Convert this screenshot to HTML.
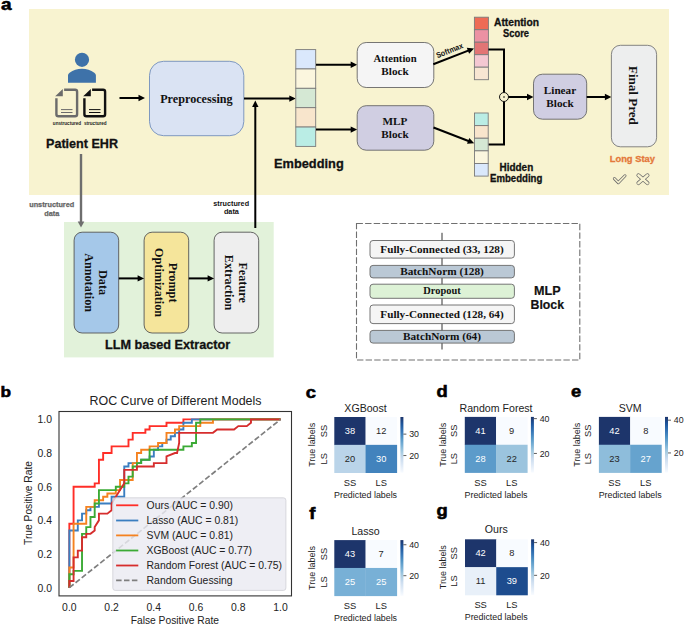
<!DOCTYPE html>
<html><head><meta charset="utf-8"><title>figure</title>
<style>html,body{margin:0;padding:0;background:#fff;width:685px;height:626px;overflow:hidden}svg{display:block}</style>
</head><body>
<svg width="685" height="626" viewBox="0 0 685 626">
<text transform="translate(0.9,10.1) scale(1.15,1)" font-family="Liberation Sans" font-size="16.5" font-weight="bold" fill="#000" stroke="#000" stroke-width="0.55">a</text>
<rect x="29.00" y="9.00" width="640.00" height="186.00" fill="#F8F3D0" />
<circle cx="82" cy="59.8" r="7.1" fill="#3E72A9"/>
<path d="M68,82.8 L68,75.3 Q68,73.8 69.6,72.8 C73.2,70.4 77.2,68.8 81.95,68.8 C86.7,68.8 90.7,70.4 94.3,72.8 Q95.9,73.8 95.9,75.3 L95.9,82.8 Z" fill="#3E72A9" />
<path d="M64.10000000000001,89.8 L75.1,89.8 Q77.1,89.8 77.1,91.8 L77.1,114.3 Q77.1,116.3 75.1,116.3 L58.400000000000006,116.3 Q56.400000000000006,116.3 56.400000000000006,114.3 L56.400000000000006,98.2" fill="none" stroke="#6b6b6b" stroke-width="2.4" />
<path d="M55.2,96.3 L62.800000000000004,89 L62.800000000000004,96.3 Z" fill="#6b6b6b" />
<line x1="61.00" y1="109.60" x2="72.50" y2="109.60" stroke="#6b6b6b" stroke-width="1" />
<line x1="61.00" y1="112.50" x2="72.50" y2="112.50" stroke="#6b6b6b" stroke-width="1" />
<path d="M92.10000000000001,89.8 L103.1,89.8 Q105.1,89.8 105.1,91.8 L105.1,114.3 Q105.1,116.3 103.1,116.3 L86.4,116.3 Q84.4,116.3 84.4,114.3 L84.4,98.2" fill="none" stroke="#111" stroke-width="2.4" />
<path d="M83.2,96.3 L90.8,89 L90.8,96.3 Z" fill="#111" />
<line x1="89.00" y1="109.60" x2="100.50" y2="109.60" stroke="#111" stroke-width="1" />
<line x1="89.00" y1="112.50" x2="100.50" y2="112.50" stroke="#111" stroke-width="1" />
<text x="67.00" y="125.20" font-family="Liberation Sans" font-size="5.2" font-weight="bold" fill="#222" text-anchor="middle" textLength="28.3" lengthAdjust="spacingAndGlyphs" >unstructured</text>
<text x="95.30" y="125.20" font-family="Liberation Sans" font-size="5.2" font-weight="bold" fill="#222" text-anchor="middle" textLength="22.8" lengthAdjust="spacingAndGlyphs" >structured</text>
<text x="46.00" y="148.00" font-family="Liberation Sans" font-size="13" font-weight="bold" fill="#111" text-anchor="start" textLength="72" lengthAdjust="spacingAndGlyphs" stroke="#111" stroke-width="0.3">Patient EHR</text>
<line x1="119.50" y1="98.00" x2="139.50" y2="98.00" stroke="#000" stroke-width="2.0" />
<path d="M145.00,98.00 L138.50,101.20 L138.50,94.80 Z" fill="#000" />
<rect x="149.50" y="61.30" width="94.30" height="74.40" fill="#DAE3F3" rx="14" stroke="#7E98C0" stroke-width="1" />
<text x="160.20" y="103.30" font-family="Liberation Serif" font-size="12.3" font-weight="bold" fill="#111" text-anchor="start" textLength="72.5" lengthAdjust="spacingAndGlyphs" >Preprocessing</text>
<line x1="244.00" y1="98.60" x2="290.30" y2="98.60" stroke="#000" stroke-width="2.0" />
<path d="M295.80,98.60 L289.30,101.80 L289.30,95.40 Z" fill="#000" />
<line x1="255.30" y1="227.60" x2="255.30" y2="106.10" stroke="#000" stroke-width="2.0" />
<path d="M255.30,100.60 L258.50,107.10 L252.10,107.10 Z" fill="#000" />
<rect x="295.80" y="49.60" width="19.90" height="19.36" fill="#DAE8FC" stroke="#7a7a7a" stroke-width="0.9" />
<rect x="295.80" y="68.96" width="19.90" height="19.36" fill="#FBF6DE" stroke="#7a7a7a" stroke-width="0.9" />
<rect x="295.80" y="88.32" width="19.90" height="19.36" fill="#D5E8D4" stroke="#7a7a7a" stroke-width="0.9" />
<rect x="295.80" y="107.68" width="19.90" height="19.36" fill="#F8E5CC" stroke="#7a7a7a" stroke-width="0.9" />
<rect x="295.80" y="127.04" width="19.90" height="19.36" fill="#BAEDE5" stroke="#7a7a7a" stroke-width="0.9" />
<text x="274.00" y="167.70" font-family="Liberation Sans" font-size="13" font-weight="bold" fill="#111" text-anchor="start" textLength="69.7" lengthAdjust="spacingAndGlyphs" stroke="#111" stroke-width="0.3">Embedding</text>
<line x1="316.00" y1="64.70" x2="351.70" y2="64.70" stroke="#000" stroke-width="2.0" />
<path d="M357.20,64.70 L350.70,67.90 L350.70,61.50 Z" fill="#000" />
<line x1="316.00" y1="129.60" x2="351.70" y2="129.60" stroke="#000" stroke-width="2.0" />
<path d="M357.20,129.60 L350.70,132.80 L350.70,126.40 Z" fill="#000" />
<rect x="357.20" y="42.50" width="76.60" height="45.00" fill="#F5F5F5" rx="9" stroke="#666" stroke-width="0.9" />
<text x="395.00" y="62.30" font-family="Liberation Serif" font-size="11.2" font-weight="bold" fill="#111" text-anchor="middle" textLength="43.2" lengthAdjust="spacingAndGlyphs" >Attention</text>
<text x="395.00" y="75.00" font-family="Liberation Serif" font-size="11.2" font-weight="bold" fill="#111" text-anchor="middle" >Block</text>
<rect x="357.20" y="105.70" width="76.60" height="44.50" fill="#D0CEE2" rx="9" stroke="#666" stroke-width="0.9" />
<text x="395.00" y="125.30" font-family="Liberation Serif" font-size="11.2" font-weight="bold" fill="#111" text-anchor="middle" >MLP</text>
<text x="395.00" y="137.80" font-family="Liberation Serif" font-size="11.2" font-weight="bold" fill="#111" text-anchor="middle" >Block</text>
<line x1="433.30" y1="64.20" x2="468.87" y2="50.39" stroke="#000" stroke-width="2.0" />
<path d="M474.00,48.40 L469.10,53.74 L466.78,47.77 Z" fill="#000" />
<text x="450.60" y="53.00" font-family="Liberation Sans" font-size="8" font-weight="bold" fill="#111" text-anchor="middle" textLength="28.5" lengthAdjust="spacingAndGlyphs" transform="rotate(-22 450.6 53)" >Softmax</text>
<rect x="474.40" y="17.20" width="14.00" height="12.50" fill="#EE6B55" stroke="#7a7a7a" stroke-width="0.9" />
<rect x="474.40" y="29.70" width="14.00" height="12.50" fill="#EC91A3" stroke="#7a7a7a" stroke-width="0.9" />
<rect x="474.40" y="42.20" width="14.00" height="12.50" fill="#E27575" stroke="#7a7a7a" stroke-width="0.9" />
<rect x="474.40" y="54.70" width="14.00" height="12.50" fill="#F4C8D2" stroke="#7a7a7a" stroke-width="0.9" />
<rect x="474.40" y="67.20" width="14.00" height="12.50" fill="#F8E6D2" stroke="#7a7a7a" stroke-width="0.9" />
<text x="494.00" y="25.60" font-family="Liberation Sans" font-size="10.2" font-weight="bold" fill="#111" text-anchor="start" textLength="45" lengthAdjust="spacingAndGlyphs" stroke="#111" stroke-width="0.3">Attention</text>
<text x="503.00" y="36.70" font-family="Liberation Sans" font-size="10" font-weight="bold" fill="#111" text-anchor="start" textLength="26" lengthAdjust="spacingAndGlyphs" stroke="#111" stroke-width="0.3">Score</text>
<path d="M488.4,49.6 L504,49.6 L504,92.5" fill="none" stroke="#000" stroke-width="2.0" />
<path d="M488.2,144.5 L504,144.5 L504,101.5" fill="none" stroke="#000" stroke-width="2.0" />
<circle cx="504" cy="97" r="4.5" fill="#F8F3D0" stroke="#000" stroke-width="0.9"/>
<circle cx="504" cy="97" r="0.8" fill="#000"/>
<line x1="508.50" y1="97.00" x2="528.00" y2="97.00" stroke="#000" stroke-width="2.0" />
<path d="M533.50,97.00 L527.00,100.20 L527.00,93.80 Z" fill="#000" />
<rect x="533.50" y="74.20" width="53.20" height="45.00" fill="#D0CEE2" rx="9" stroke="#666" stroke-width="0.9" />
<text x="560.00" y="93.60" font-family="Liberation Serif" font-size="11.2" font-weight="bold" fill="#111" text-anchor="middle" >Linear</text>
<text x="560.00" y="107.20" font-family="Liberation Serif" font-size="11.2" font-weight="bold" fill="#111" text-anchor="middle" >Block</text>
<line x1="586.70" y1="97.00" x2="605.90" y2="97.00" stroke="#000" stroke-width="2.0" />
<path d="M611.40,97.00 L604.90,100.20 L604.90,93.80 Z" fill="#000" />
<rect x="611.40" y="45.30" width="45.20" height="101.50" fill="#EDEEEE" rx="9" stroke="#777" stroke-width="0.9" />
<text x="0.00" y="0.00" font-family="Liberation Serif" font-size="12.8" font-weight="bold" fill="#111" text-anchor="middle" textLength="59" lengthAdjust="spacingAndGlyphs" transform="translate(628.9,95.4) rotate(90)" >Final Pred</text>
<text x="609.70" y="162.30" font-family="Liberation Sans" font-size="9.8" font-weight="bold" fill="#E4783A" text-anchor="start" textLength="45.3" lengthAdjust="spacingAndGlyphs" stroke="#E4783A" stroke-width="0.3">Long Stay</text>
<path d="M614.4,178.6 L618.3,182.6 L625,175.8" fill="none" stroke="#6a6a6a" stroke-width="3.0" stroke-linecap="round" stroke-linejoin="round"/>
<path d="M614.4,178.6 L618.3,182.6 L625,175.8" fill="none" stroke="#F8F3D0" stroke-width="1.5" stroke-linecap="round" stroke-linejoin="round"/>
<path d="M638.4,175.3 L647.5,183.1 M647.5,175.3 L638.4,183.1" fill="none" stroke="#6a6a6a" stroke-width="3.9" stroke-linecap="round"/>
<path d="M638.4,175.3 L647.5,183.1 M647.5,175.3 L638.4,183.1" fill="none" stroke="#F8F3D0" stroke-width="2.5" stroke-linecap="round"/>
<line x1="433.50" y1="127.50" x2="469.07" y2="141.22" stroke="#000" stroke-width="2.0" />
<path d="M474.20,143.20 L466.98,143.85 L469.29,137.88 Z" fill="#000" />
<rect x="474.50" y="113.00" width="13.70" height="12.62" fill="#BAEDE5" stroke="#7a7a7a" stroke-width="0.9" />
<rect x="474.50" y="125.62" width="13.70" height="12.62" fill="#F8E5CC" stroke="#7a7a7a" stroke-width="0.9" />
<rect x="474.50" y="138.24" width="13.70" height="12.62" fill="#D5E8D4" stroke="#7a7a7a" stroke-width="0.9" />
<rect x="474.50" y="150.86" width="13.70" height="12.62" fill="#FBF6DE" stroke="#7a7a7a" stroke-width="0.9" />
<rect x="474.50" y="163.48" width="13.70" height="12.62" fill="#DAE8FC" stroke="#7a7a7a" stroke-width="0.9" />
<text x="499.60" y="171.00" font-family="Liberation Sans" font-size="10" font-weight="bold" fill="#111" text-anchor="start" textLength="33.6" lengthAdjust="spacingAndGlyphs" stroke="#111" stroke-width="0.3">Hidden</text>
<text x="490.00" y="181.80" font-family="Liberation Sans" font-size="10" font-weight="bold" fill="#111" text-anchor="start" textLength="52.3" lengthAdjust="spacingAndGlyphs" stroke="#111" stroke-width="0.3">Embedding</text>
<text x="51.70" y="207.40" font-family="Liberation Sans" font-size="7.3" font-weight="bold" fill="#666" text-anchor="middle" textLength="45" lengthAdjust="spacingAndGlyphs" stroke="#666" stroke-width="0.25">unstructured</text>
<text x="51.70" y="215.50" font-family="Liberation Sans" font-size="7.3" font-weight="bold" fill="#666" text-anchor="middle" stroke="#666" stroke-width="0.25">data</text>
<text x="231.20" y="206.00" font-family="Liberation Sans" font-size="7.3" font-weight="bold" fill="#111" text-anchor="middle" textLength="35.7" lengthAdjust="spacingAndGlyphs" >structured</text>
<text x="231.40" y="213.90" font-family="Liberation Sans" font-size="7.3" font-weight="bold" fill="#111" text-anchor="middle" >data</text>
<rect x="64.00" y="222.00" width="209.70" height="135.40" fill="#E2F2DA" />
<line x1="81.00" y1="154.00" x2="81.00" y2="222.40" stroke="#6e6e6e" stroke-width="2.4" />
<path d="M81.00,227.40 L77.70,221.40 L84.30,221.40 Z" fill="#6e6e6e" />
<line x1="255.30" y1="222.00" x2="255.30" y2="228.00" stroke="#000" stroke-width="2.0" />
<rect x="74.10" y="232.20" width="44.60" height="100.80" fill="#A5C8E9" rx="8" stroke="#555" stroke-width="0.9" />
<rect x="144.10" y="232.20" width="44.60" height="100.80" fill="#F5E59B" rx="8" stroke="#555" stroke-width="0.9" />
<rect x="214.10" y="232.20" width="44.60" height="100.80" fill="#EEEEEE" rx="8" stroke="#555" stroke-width="0.9" />
<line x1="118.80" y1="278.40" x2="138.60" y2="278.40" stroke="#000" stroke-width="2.0" />
<path d="M144.10,278.40 L137.60,281.60 L137.60,275.20 Z" fill="#000" />
<line x1="188.80" y1="278.40" x2="208.60" y2="278.40" stroke="#000" stroke-width="2.0" />
<path d="M214.10,278.40 L207.60,281.60 L207.60,275.20 Z" fill="#000" />
<text x="0.00" y="0.00" font-family="Liberation Serif" font-size="12.2" font-weight="bold" fill="#111" text-anchor="middle" transform="translate(98.5,282.6) rotate(90)" >Data</text>
<text x="0.00" y="0.00" font-family="Liberation Serif" font-size="12.2" font-weight="bold" fill="#111" text-anchor="middle" transform="translate(84.5,282.6) rotate(90)" >Annotation</text>
<text x="0.00" y="0.00" font-family="Liberation Serif" font-size="12.2" font-weight="bold" fill="#111" text-anchor="middle" transform="translate(168.5,282.6) rotate(90)" >Prompt</text>
<text x="0.00" y="0.00" font-family="Liberation Serif" font-size="12.2" font-weight="bold" fill="#111" text-anchor="middle" transform="translate(154.5,282.6) rotate(90)" >Optimization</text>
<text x="0.00" y="0.00" font-family="Liberation Serif" font-size="12.2" font-weight="bold" fill="#111" text-anchor="middle" transform="translate(238.5,282.6) rotate(90)" >Feature</text>
<text x="0.00" y="0.00" font-family="Liberation Serif" font-size="12.2" font-weight="bold" fill="#111" text-anchor="middle" transform="translate(224.5,282.6) rotate(90)" >Extraction</text>
<text x="105.00" y="349.40" font-family="Liberation Sans" font-size="12.7" font-weight="bold" fill="#111" text-anchor="start" textLength="125.2" lengthAdjust="spacingAndGlyphs" stroke="#111" stroke-width="0.3">LLM based Extractor</text>
<rect x="356.50" y="223.50" width="223.30" height="136.50" fill="none" stroke="#707070" stroke-width="1.1" stroke-dasharray="6.4 2.2"/>
<line x1="442.00" y1="232.80" x2="442.00" y2="349.50" stroke="#333" stroke-width="1" />
<rect x="370.00" y="240.50" width="144.40" height="17.60" fill="#F5F5F5" rx="3" stroke="#666" stroke-width="0.9" />
<text x="442.00" y="253.00" font-family="Liberation Serif" font-size="11" font-weight="bold" fill="#111" text-anchor="middle" textLength="123.3" lengthAdjust="spacingAndGlyphs" >Fully-Connected (33, 128)</text>
<rect x="370.00" y="265.40" width="144.40" height="12.50" fill="#BAC8D5" rx="3" stroke="#666" stroke-width="0.9" />
<text x="442.00" y="274.50" font-family="Liberation Serif" font-size="11" font-weight="bold" fill="#111" text-anchor="middle" textLength="83.7" lengthAdjust="spacingAndGlyphs" >BatchNorm (128)</text>
<rect x="370.00" y="284.20" width="144.40" height="14.10" fill="#DDF2D6" rx="3" stroke="#666" stroke-width="0.9" />
<text x="442.00" y="294.40" font-family="Liberation Serif" font-size="11" font-weight="bold" fill="#111" text-anchor="middle" textLength="37.3" lengthAdjust="spacingAndGlyphs" >Dropout</text>
<rect x="370.00" y="305.00" width="144.40" height="18.60" fill="#F5F5F5" rx="3" stroke="#666" stroke-width="0.9" />
<text x="442.00" y="318.20" font-family="Liberation Serif" font-size="11" font-weight="bold" fill="#111" text-anchor="middle" textLength="123.3" lengthAdjust="spacingAndGlyphs" >Fully-Connected (128, 64)</text>
<rect x="370.00" y="330.40" width="144.40" height="12.70" fill="#BAC8D5" rx="3" stroke="#666" stroke-width="0.9" />
<text x="442.00" y="339.70" font-family="Liberation Serif" font-size="11" font-weight="bold" fill="#111" text-anchor="middle" textLength="78.1" lengthAdjust="spacingAndGlyphs" >BatchNorm (64)</text>
<text x="547.30" y="295.10" font-family="Liberation Sans" font-size="13.6" font-weight="bold" fill="#111" text-anchor="middle" textLength="26.6" lengthAdjust="spacingAndGlyphs" stroke="#111" stroke-width="0.2">MLP</text>
<text x="547.30" y="309.20" font-family="Liberation Sans" font-size="13.6" font-weight="bold" fill="#111" text-anchor="middle" textLength="33.6" lengthAdjust="spacingAndGlyphs" stroke="#111" stroke-width="0.2">Block</text>
<text transform="translate(0.6,396.8) scale(1.15,1)" font-family="Liberation Sans" font-size="15" font-weight="bold" fill="#000" stroke="#000" stroke-width="0.55">b</text>
<text x="89.50" y="405.00" font-family="Liberation Sans" font-size="12.4" font-weight="normal" fill="#222" text-anchor="start" textLength="172" lengthAdjust="spacingAndGlyphs" >ROC Curve of Different Models</text>
<text x="52.00" y="591.50" font-family="Liberation Sans" font-size="10.4" font-weight="normal" fill="#222" text-anchor="end" >0.0</text>
<text x="69.35" y="610.80" font-family="Liberation Sans" font-size="10.4" font-weight="normal" fill="#222" text-anchor="middle" >0.0</text>
<text x="52.00" y="557.84" font-family="Liberation Sans" font-size="10.4" font-weight="normal" fill="#222" text-anchor="end" >0.2</text>
<text x="111.59" y="610.80" font-family="Liberation Sans" font-size="10.4" font-weight="normal" fill="#222" text-anchor="middle" >0.2</text>
<text x="52.00" y="524.18" font-family="Liberation Sans" font-size="10.4" font-weight="normal" fill="#222" text-anchor="end" >0.4</text>
<text x="153.83" y="610.80" font-family="Liberation Sans" font-size="10.4" font-weight="normal" fill="#222" text-anchor="middle" >0.4</text>
<text x="52.00" y="490.52" font-family="Liberation Sans" font-size="10.4" font-weight="normal" fill="#222" text-anchor="end" >0.6</text>
<text x="196.07" y="610.80" font-family="Liberation Sans" font-size="10.4" font-weight="normal" fill="#222" text-anchor="middle" >0.6</text>
<text x="52.00" y="456.86" font-family="Liberation Sans" font-size="10.4" font-weight="normal" fill="#222" text-anchor="end" >0.8</text>
<text x="238.31" y="610.80" font-family="Liberation Sans" font-size="10.4" font-weight="normal" fill="#222" text-anchor="middle" >0.8</text>
<text x="52.00" y="423.20" font-family="Liberation Sans" font-size="10.4" font-weight="normal" fill="#222" text-anchor="end" >1.0</text>
<text x="280.55" y="610.80" font-family="Liberation Sans" font-size="10.4" font-weight="normal" fill="#222" text-anchor="middle" >1.0</text>
<text x="130.70" y="624.10" font-family="Liberation Sans" font-size="10.4" font-weight="normal" fill="#222" text-anchor="start" textLength="88.3" lengthAdjust="spacingAndGlyphs" >False Positive Rate</text>
<text x="0.00" y="0.00" font-family="Liberation Sans" font-size="10.4" font-weight="normal" fill="#222" text-anchor="middle" textLength="84" lengthAdjust="spacingAndGlyphs" transform="translate(31.6,503) rotate(-90)" >True Positive Rate</text>
<clipPath id="ax"><rect x="59" y="411.5" width="232.5" height="184"/></clipPath>
<g clip-path="url(#ax)">
<path d="M69.35,587.70 L69.35,523.75 L73.57,523.75 L73.57,486.72 L94.69,486.72 L94.69,483.35 L98.92,483.35 L98.92,459.79 L103.14,459.79 L103.14,453.06 L111.59,453.06 L111.59,446.33 L128.49,446.33 L128.49,439.60 L132.71,439.60 L132.71,432.86 L145.38,432.86 L145.38,429.50 L149.61,429.50 L149.61,426.13 L166.50,426.13 L166.50,422.77 L183.40,422.77 L183.40,419.40 L280.55,419.40" fill="none" stroke="#FF2E27" stroke-width="1.9" stroke-linejoin="miter"/>
<path d="M69.35,587.70 L69.35,530.48 L77.80,530.48 L77.80,520.38 L82.02,520.38 L82.02,513.65 L86.25,513.65 L86.25,510.28 L90.47,510.28 L90.47,506.92 L98.92,506.92 L98.92,503.55 L111.59,503.55 L111.59,496.82 L124.26,496.82 L124.26,466.52 L128.49,466.52 L128.49,463.16 L141.16,463.16 L141.16,459.79 L149.61,459.79 L149.61,456.43 L153.83,456.43 L153.83,449.69 L158.05,449.69 L158.05,446.33 L162.28,446.33 L162.28,442.96 L166.50,442.96 L166.50,439.60 L170.73,439.60 L170.73,436.23 L174.95,436.23 L174.95,432.86 L179.17,432.86 L179.17,429.50 L183.40,429.50 L183.40,422.77 L191.85,422.77 L191.85,419.40 L280.55,419.40" fill="none" stroke="#3A7EC0" stroke-width="1.9" stroke-linejoin="miter"/>
<path d="M69.35,587.70 L69.35,567.50 L73.57,567.50 L73.57,523.75 L86.25,523.75 L86.25,506.92 L94.69,506.92 L94.69,500.18 L103.14,500.18 L103.14,496.82 L107.37,496.82 L107.37,493.45 L115.81,493.45 L115.81,490.09 L120.04,490.09 L120.04,479.99 L132.71,479.99 L132.71,463.16 L136.93,463.16 L136.93,453.06 L141.16,453.06 L141.16,449.69 L149.61,449.69 L149.61,446.33 L158.05,446.33 L158.05,442.96 L166.50,442.96 L166.50,432.86 L174.95,432.86 L174.95,429.50 L179.17,429.50 L179.17,426.13 L200.29,426.13 L200.29,422.77 L212.97,422.77 L212.97,419.40 L280.55,419.40" fill="none" stroke="#F58220" stroke-width="1.9" stroke-linejoin="miter"/>
<path d="M69.35,587.70 L69.35,574.24 L73.57,574.24 L73.57,570.87 L82.02,570.87 L82.02,533.84 L86.25,533.84 L86.25,527.11 L90.47,527.11 L90.47,517.01 L94.69,517.01 L94.69,503.55 L98.92,503.55 L98.92,490.09 L115.81,490.09 L115.81,486.72 L124.26,486.72 L124.26,483.35 L128.49,483.35 L128.49,476.62 L132.71,476.62 L132.71,466.52 L136.93,466.52 L136.93,463.16 L141.16,463.16 L141.16,459.79 L149.61,459.79 L149.61,449.69 L183.40,449.69 L183.40,446.33 L191.85,446.33 L191.85,442.96 L196.07,442.96 L196.07,422.77 L200.29,422.77 L200.29,419.40 L280.55,419.40" fill="none" stroke="#3BAA35" stroke-width="1.9" stroke-linejoin="miter"/>
<path d="M69.35,587.70 L69.35,580.97 L73.57,580.97 L73.57,557.41 L77.80,557.41 L77.80,550.67 L82.02,550.67 L82.02,537.21 L86.25,537.21 L86.25,533.84 L90.47,533.84 L94.69,530.48 L94.69,527.11 L98.92,520.38 L98.92,513.65 L107.37,513.65 L111.59,510.28 L111.59,503.55 L124.26,483.35 L124.26,469.89 L136.93,469.89 L136.93,466.52 L153.83,466.52 L153.83,463.16 L166.50,463.16 L166.50,456.43 L174.95,453.06 L177.06,453.06 L179.17,442.96 L179.17,432.86 L212.97,432.86 L217.19,429.50 L234.09,429.50 L238.31,426.13 L246.76,426.13 L250.98,422.77 L250.98,419.40 L280.55,419.40" fill="none" stroke="#D62D2D" stroke-width="1.9" stroke-linejoin="miter"/>
<line x1="69.35" y1="587.70" x2="280.55" y2="419.40" stroke="#7f7f7f" stroke-width="1.7" stroke-dasharray="5.5 2.4"/>
</g>
<rect x="59.00" y="411.50" width="232.50" height="184.40" fill="none" stroke="#333" stroke-width="1.1" />
<rect x="112.80" y="497.80" width="173.10" height="92.60" fill="#EAEAF2" rx="2.5" stroke="#cfcfd6" stroke-width="0.8" fill-opacity="0.82"/>
<line x1="116.10" y1="505.30" x2="138.30" y2="505.30" stroke="#FF2E27" stroke-width="1.8" />
<text x="146.60" y="509.00" font-family="Liberation Sans" font-size="10.4" font-weight="normal" fill="#222" text-anchor="start" >Ours (AUC = 0.90)</text>
<line x1="116.10" y1="520.50" x2="138.30" y2="520.50" stroke="#3A7EC0" stroke-width="1.8" />
<text x="146.60" y="524.20" font-family="Liberation Sans" font-size="10.4" font-weight="normal" fill="#222" text-anchor="start" >Lasso (AUC = 0.81)</text>
<line x1="116.10" y1="535.40" x2="138.30" y2="535.40" stroke="#F58220" stroke-width="1.8" />
<text x="146.60" y="539.10" font-family="Liberation Sans" font-size="10.4" font-weight="normal" fill="#222" text-anchor="start" >SVM (AUC = 0.81)</text>
<line x1="116.10" y1="550.50" x2="138.30" y2="550.50" stroke="#3BAA35" stroke-width="1.8" />
<text x="146.60" y="554.20" font-family="Liberation Sans" font-size="10.4" font-weight="normal" fill="#222" text-anchor="start" >XGBoost (AUC = 0.77)</text>
<line x1="116.10" y1="565.50" x2="138.30" y2="565.50" stroke="#D62D2D" stroke-width="1.8" />
<text x="146.60" y="569.20" font-family="Liberation Sans" font-size="10.4" font-weight="normal" fill="#222" text-anchor="start" >Random Forest (AUC = 0.75)</text>
<line x1="116.10" y1="580.40" x2="138.30" y2="580.40" stroke="#7f7f7f" stroke-width="1.7" stroke-dasharray="5.5 2.4"/>
<text x="146.60" y="584.10" font-family="Liberation Sans" font-size="10.4" font-weight="normal" fill="#222" text-anchor="start" >Random Guessing</text>
<text transform="translate(305.8,398) scale(1.15,1)" font-family="Liberation Sans" font-size="16" font-weight="bold" fill="#000" stroke="#000" stroke-width="0.55">c</text>
<text x="365.55" y="411.90" font-family="Liberation Sans" font-size="10.6" font-weight="normal" fill="#222" text-anchor="middle" >XGBoost</text>
<rect x="334.30" y="417.00" width="31.55" height="28.15" fill="#1d356b" />
<text x="349.93" y="434.03" font-family="Liberation Sans" font-size="9.3" font-weight="normal" fill="#ffffff" text-anchor="middle" >38</text>
<rect x="365.55" y="417.00" width="31.55" height="28.15" fill="#f8fbff" />
<text x="381.18" y="434.03" font-family="Liberation Sans" font-size="9.3" font-weight="normal" fill="#262626" text-anchor="middle" >12</text>
<rect x="334.30" y="444.85" width="31.55" height="28.15" fill="#bad4e9" />
<text x="349.93" y="461.88" font-family="Liberation Sans" font-size="9.3" font-weight="normal" fill="#262626" text-anchor="middle" >20</text>
<rect x="365.55" y="444.85" width="31.55" height="28.15" fill="#4283bd" />
<text x="381.18" y="461.88" font-family="Liberation Sans" font-size="9.3" font-weight="normal" fill="#ffffff" text-anchor="middle" >30</text>
<text x="0.00" y="0.00" font-family="Liberation Sans" font-size="9.3" font-weight="normal" fill="#222" text-anchor="middle" transform="translate(326.7,430.925) rotate(-90)" >SS</text>
<text x="0.00" y="0.00" font-family="Liberation Sans" font-size="9.3" font-weight="normal" fill="#222" text-anchor="middle" transform="translate(326.7,458.77500000000003) rotate(-90)" >LS</text>
<text x="0.00" y="0.00" font-family="Liberation Sans" font-size="9.6" font-weight="normal" fill="#222" text-anchor="middle" textLength="44" lengthAdjust="spacingAndGlyphs" transform="translate(315.0,444.85) rotate(-90)" >True labels</text>
<text x="349.93" y="486.10" font-family="Liberation Sans" font-size="9.3" font-weight="normal" fill="#222" text-anchor="middle" >SS</text>
<text x="381.18" y="486.10" font-family="Liberation Sans" font-size="9.3" font-weight="normal" fill="#222" text-anchor="middle" >LS</text>
<text x="365.55" y="498.00" font-family="Liberation Sans" font-size="9.6" font-weight="normal" fill="#222" text-anchor="middle" textLength="63" lengthAdjust="spacingAndGlyphs" >Predicted labels</text>
<defs><linearGradient id="cb1" x1="0" y1="1" x2="0" y2="0"><stop offset="0.0000" stop-color="#f8fbff"/><stop offset="0.0625" stop-color="#ecf3fb"/><stop offset="0.1250" stop-color="#e1ebf7"/><stop offset="0.1875" stop-color="#d6e4f3"/><stop offset="0.2500" stop-color="#cbdcef"/><stop offset="0.3125" stop-color="#b9d4e8"/><stop offset="0.3750" stop-color="#a6cbe1"/><stop offset="0.4375" stop-color="#8fbedc"/><stop offset="0.5000" stop-color="#78b0d6"/><stop offset="0.5625" stop-color="#65a2ce"/><stop offset="0.6250" stop-color="#5295c6"/><stop offset="0.6875" stop-color="#4384be"/><stop offset="0.7500" stop-color="#3474b5"/><stop offset="0.8125" stop-color="#2965a8"/><stop offset="0.8750" stop-color="#1d559c"/><stop offset="0.9375" stop-color="#1d4584"/><stop offset="1.0000" stop-color="#1d356b"/></linearGradient></defs>
<rect x="400.40" y="417.00" width="3.00" height="55.70" fill="url(#cb1)" />
<line x1="403.40" y1="434.14" x2="406.40" y2="434.14" stroke="#333" stroke-width="0.8" />
<text x="409.20" y="437.34" font-family="Liberation Sans" font-size="8.8" font-weight="normal" fill="#222" text-anchor="start" >30</text>
<line x1="403.40" y1="455.56" x2="406.40" y2="455.56" stroke="#333" stroke-width="0.8" />
<text x="409.20" y="458.76" font-family="Liberation Sans" font-size="8.8" font-weight="normal" fill="#222" text-anchor="start" >20</text>
<text transform="translate(436.4,396.6) scale(1.15,1)" font-family="Liberation Sans" font-size="16" font-weight="bold" fill="#000" stroke="#000" stroke-width="0.55">d</text>
<text x="496.05" y="411.80" font-family="Liberation Sans" font-size="10.6" font-weight="normal" fill="#222" text-anchor="middle" >Random Forest</text>
<rect x="464.80" y="416.90" width="31.55" height="28.15" fill="#1d356b" />
<text x="480.43" y="433.93" font-family="Liberation Sans" font-size="9.3" font-weight="normal" fill="#ffffff" text-anchor="middle" >41</text>
<rect x="496.05" y="416.90" width="31.55" height="28.15" fill="#f8fbff" />
<text x="511.68" y="433.93" font-family="Liberation Sans" font-size="9.3" font-weight="normal" fill="#262626" text-anchor="middle" >9</text>
<rect x="464.80" y="444.75" width="31.55" height="28.15" fill="#5c9bca" />
<text x="480.43" y="461.78" font-family="Liberation Sans" font-size="9.3" font-weight="normal" fill="#ffffff" text-anchor="middle" >28</text>
<rect x="496.05" y="444.75" width="31.55" height="28.15" fill="#9bc4de" />
<text x="511.68" y="461.78" font-family="Liberation Sans" font-size="9.3" font-weight="normal" fill="#262626" text-anchor="middle" >22</text>
<text x="0.00" y="0.00" font-family="Liberation Sans" font-size="9.3" font-weight="normal" fill="#222" text-anchor="middle" transform="translate(457.2,430.825) rotate(-90)" >SS</text>
<text x="0.00" y="0.00" font-family="Liberation Sans" font-size="9.3" font-weight="normal" fill="#222" text-anchor="middle" transform="translate(457.2,458.675) rotate(-90)" >LS</text>
<text x="0.00" y="0.00" font-family="Liberation Sans" font-size="9.6" font-weight="normal" fill="#222" text-anchor="middle" textLength="44" lengthAdjust="spacingAndGlyphs" transform="translate(445.5,444.75) rotate(-90)" >True labels</text>
<text x="480.43" y="486.00" font-family="Liberation Sans" font-size="9.3" font-weight="normal" fill="#222" text-anchor="middle" >SS</text>
<text x="511.68" y="486.00" font-family="Liberation Sans" font-size="9.3" font-weight="normal" fill="#222" text-anchor="middle" >LS</text>
<text x="496.05" y="497.90" font-family="Liberation Sans" font-size="9.6" font-weight="normal" fill="#222" text-anchor="middle" textLength="63" lengthAdjust="spacingAndGlyphs" >Predicted labels</text>
<defs><linearGradient id="cb2" x1="0" y1="1" x2="0" y2="0"><stop offset="0.0000" stop-color="#f8fbff"/><stop offset="0.0625" stop-color="#ecf3fb"/><stop offset="0.1250" stop-color="#e1ebf7"/><stop offset="0.1875" stop-color="#d6e4f3"/><stop offset="0.2500" stop-color="#cbdcef"/><stop offset="0.3125" stop-color="#b9d4e8"/><stop offset="0.3750" stop-color="#a6cbe1"/><stop offset="0.4375" stop-color="#8fbedc"/><stop offset="0.5000" stop-color="#78b0d6"/><stop offset="0.5625" stop-color="#65a2ce"/><stop offset="0.6250" stop-color="#5295c6"/><stop offset="0.6875" stop-color="#4384be"/><stop offset="0.7500" stop-color="#3474b5"/><stop offset="0.8125" stop-color="#2965a8"/><stop offset="0.8750" stop-color="#1d559c"/><stop offset="0.9375" stop-color="#1d4584"/><stop offset="1.0000" stop-color="#1d356b"/></linearGradient></defs>
<rect x="530.90" y="416.90" width="3.00" height="55.70" fill="url(#cb2)" />
<line x1="533.90" y1="418.64" x2="536.90" y2="418.64" stroke="#333" stroke-width="0.8" />
<text x="539.70" y="421.84" font-family="Liberation Sans" font-size="8.8" font-weight="normal" fill="#222" text-anchor="start" >40</text>
<line x1="533.90" y1="453.45" x2="536.90" y2="453.45" stroke="#333" stroke-width="0.8" />
<text x="539.70" y="456.65" font-family="Liberation Sans" font-size="8.8" font-weight="normal" fill="#222" text-anchor="start" >20</text>
<text transform="translate(571,396.6) scale(1.15,1)" font-family="Liberation Sans" font-size="16" font-weight="bold" fill="#000" stroke="#000" stroke-width="0.55">e</text>
<text x="630.15" y="412.00" font-family="Liberation Sans" font-size="10.6" font-weight="normal" fill="#222" text-anchor="middle" >SVM</text>
<rect x="598.90" y="416.90" width="31.55" height="28.15" fill="#1d356b" />
<text x="614.52" y="433.93" font-family="Liberation Sans" font-size="9.3" font-weight="normal" fill="#ffffff" text-anchor="middle" >42</text>
<rect x="630.15" y="416.90" width="31.55" height="28.15" fill="#f8fbff" />
<text x="645.77" y="433.93" font-family="Liberation Sans" font-size="9.3" font-weight="normal" fill="#262626" text-anchor="middle" >8</text>
<rect x="598.90" y="444.75" width="31.55" height="28.15" fill="#8ebddb" />
<text x="614.52" y="461.78" font-family="Liberation Sans" font-size="9.3" font-weight="normal" fill="#262626" text-anchor="middle" >23</text>
<rect x="630.15" y="444.75" width="31.55" height="28.15" fill="#66a3ce" />
<text x="645.77" y="461.78" font-family="Liberation Sans" font-size="9.3" font-weight="normal" fill="#ffffff" text-anchor="middle" >27</text>
<text x="0.00" y="0.00" font-family="Liberation Sans" font-size="9.3" font-weight="normal" fill="#222" text-anchor="middle" transform="translate(591.3,430.825) rotate(-90)" >SS</text>
<text x="0.00" y="0.00" font-family="Liberation Sans" font-size="9.3" font-weight="normal" fill="#222" text-anchor="middle" transform="translate(591.3,458.675) rotate(-90)" >LS</text>
<text x="0.00" y="0.00" font-family="Liberation Sans" font-size="9.6" font-weight="normal" fill="#222" text-anchor="middle" textLength="44" lengthAdjust="spacingAndGlyphs" transform="translate(579.6,444.75) rotate(-90)" >True labels</text>
<text x="614.52" y="486.00" font-family="Liberation Sans" font-size="9.3" font-weight="normal" fill="#222" text-anchor="middle" >SS</text>
<text x="645.77" y="486.00" font-family="Liberation Sans" font-size="9.3" font-weight="normal" fill="#222" text-anchor="middle" >LS</text>
<text x="630.15" y="497.90" font-family="Liberation Sans" font-size="9.6" font-weight="normal" fill="#222" text-anchor="middle" textLength="63" lengthAdjust="spacingAndGlyphs" >Predicted labels</text>
<defs><linearGradient id="cb3" x1="0" y1="1" x2="0" y2="0"><stop offset="0.0000" stop-color="#f8fbff"/><stop offset="0.0625" stop-color="#ecf3fb"/><stop offset="0.1250" stop-color="#e1ebf7"/><stop offset="0.1875" stop-color="#d6e4f3"/><stop offset="0.2500" stop-color="#cbdcef"/><stop offset="0.3125" stop-color="#b9d4e8"/><stop offset="0.3750" stop-color="#a6cbe1"/><stop offset="0.4375" stop-color="#8fbedc"/><stop offset="0.5000" stop-color="#78b0d6"/><stop offset="0.5625" stop-color="#65a2ce"/><stop offset="0.6250" stop-color="#5295c6"/><stop offset="0.6875" stop-color="#4384be"/><stop offset="0.7500" stop-color="#3474b5"/><stop offset="0.8125" stop-color="#2965a8"/><stop offset="0.8750" stop-color="#1d559c"/><stop offset="0.9375" stop-color="#1d4584"/><stop offset="1.0000" stop-color="#1d356b"/></linearGradient></defs>
<rect x="665.00" y="416.90" width="3.00" height="55.70" fill="url(#cb3)" />
<line x1="668.00" y1="420.18" x2="671.00" y2="420.18" stroke="#333" stroke-width="0.8" />
<text x="673.80" y="423.38" font-family="Liberation Sans" font-size="8.8" font-weight="normal" fill="#222" text-anchor="start" >40</text>
<line x1="668.00" y1="452.94" x2="671.00" y2="452.94" stroke="#333" stroke-width="0.8" />
<text x="673.80" y="456.14" font-family="Liberation Sans" font-size="8.8" font-weight="normal" fill="#222" text-anchor="start" >20</text>
<text transform="translate(309.3,518.7) scale(1.15,1)" font-family="Liberation Sans" font-size="16" font-weight="bold" fill="#000" stroke="#000" stroke-width="0.55">f</text>
<text x="365.55" y="534.60" font-family="Liberation Sans" font-size="10.6" font-weight="normal" fill="#222" text-anchor="middle" >Lasso</text>
<rect x="334.30" y="540.10" width="31.55" height="28.15" fill="#1d356b" />
<text x="349.93" y="557.12" font-family="Liberation Sans" font-size="9.3" font-weight="normal" fill="#ffffff" text-anchor="middle" >43</text>
<rect x="365.55" y="540.10" width="31.55" height="28.15" fill="#f8fbff" />
<text x="381.18" y="557.12" font-family="Liberation Sans" font-size="9.3" font-weight="normal" fill="#262626" text-anchor="middle" >7</text>
<rect x="334.30" y="567.95" width="31.55" height="28.15" fill="#78b0d6" />
<text x="349.93" y="584.98" font-family="Liberation Sans" font-size="9.3" font-weight="normal" fill="#ffffff" text-anchor="middle" >25</text>
<rect x="365.55" y="567.95" width="31.55" height="28.15" fill="#78b0d6" />
<text x="381.18" y="584.98" font-family="Liberation Sans" font-size="9.3" font-weight="normal" fill="#ffffff" text-anchor="middle" >25</text>
<text x="0.00" y="0.00" font-family="Liberation Sans" font-size="9.3" font-weight="normal" fill="#222" text-anchor="middle" transform="translate(326.7,554.025) rotate(-90)" >SS</text>
<text x="0.00" y="0.00" font-family="Liberation Sans" font-size="9.3" font-weight="normal" fill="#222" text-anchor="middle" transform="translate(326.7,581.875) rotate(-90)" >LS</text>
<text x="0.00" y="0.00" font-family="Liberation Sans" font-size="9.6" font-weight="normal" fill="#222" text-anchor="middle" textLength="44" lengthAdjust="spacingAndGlyphs" transform="translate(315.0,567.95) rotate(-90)" >True labels</text>
<text x="349.93" y="609.20" font-family="Liberation Sans" font-size="9.3" font-weight="normal" fill="#222" text-anchor="middle" >SS</text>
<text x="381.18" y="609.20" font-family="Liberation Sans" font-size="9.3" font-weight="normal" fill="#222" text-anchor="middle" >LS</text>
<text x="365.55" y="621.10" font-family="Liberation Sans" font-size="9.6" font-weight="normal" fill="#222" text-anchor="middle" textLength="63" lengthAdjust="spacingAndGlyphs" >Predicted labels</text>
<defs><linearGradient id="cb4" x1="0" y1="1" x2="0" y2="0"><stop offset="0.0000" stop-color="#f8fbff"/><stop offset="0.0625" stop-color="#ecf3fb"/><stop offset="0.1250" stop-color="#e1ebf7"/><stop offset="0.1875" stop-color="#d6e4f3"/><stop offset="0.2500" stop-color="#cbdcef"/><stop offset="0.3125" stop-color="#b9d4e8"/><stop offset="0.3750" stop-color="#a6cbe1"/><stop offset="0.4375" stop-color="#8fbedc"/><stop offset="0.5000" stop-color="#78b0d6"/><stop offset="0.5625" stop-color="#65a2ce"/><stop offset="0.6250" stop-color="#5295c6"/><stop offset="0.6875" stop-color="#4384be"/><stop offset="0.7500" stop-color="#3474b5"/><stop offset="0.8125" stop-color="#2965a8"/><stop offset="0.8750" stop-color="#1d559c"/><stop offset="0.9375" stop-color="#1d4584"/><stop offset="1.0000" stop-color="#1d356b"/></linearGradient></defs>
<rect x="400.40" y="540.10" width="3.00" height="55.70" fill="url(#cb4)" />
<line x1="403.40" y1="544.74" x2="406.40" y2="544.74" stroke="#333" stroke-width="0.8" />
<text x="409.20" y="547.94" font-family="Liberation Sans" font-size="8.8" font-weight="normal" fill="#222" text-anchor="start" >40</text>
<line x1="403.40" y1="575.69" x2="406.40" y2="575.69" stroke="#333" stroke-width="0.8" />
<text x="409.20" y="578.89" font-family="Liberation Sans" font-size="8.8" font-weight="normal" fill="#222" text-anchor="start" >20</text>
<text transform="translate(436.4,515.6) scale(1.15,1)" font-family="Liberation Sans" font-size="16" font-weight="bold" fill="#000" stroke="#000" stroke-width="0.55">g</text>
<text x="496.25" y="533.30" font-family="Liberation Sans" font-size="10.6" font-weight="normal" fill="#222" text-anchor="middle" >Ours</text>
<rect x="465.00" y="539.30" width="31.55" height="28.15" fill="#1d356b" />
<text x="480.62" y="556.32" font-family="Liberation Sans" font-size="9.3" font-weight="normal" fill="#ffffff" text-anchor="middle" >42</text>
<rect x="496.25" y="539.30" width="31.55" height="28.15" fill="#f8fbff" />
<text x="511.88" y="556.32" font-family="Liberation Sans" font-size="9.3" font-weight="normal" fill="#262626" text-anchor="middle" >8</text>
<rect x="465.00" y="567.15" width="31.55" height="28.15" fill="#e8f0f9" />
<text x="480.62" y="584.17" font-family="Liberation Sans" font-size="9.3" font-weight="normal" fill="#262626" text-anchor="middle" >11</text>
<rect x="496.25" y="567.15" width="31.55" height="28.15" fill="#1d4c8e" />
<text x="511.88" y="584.17" font-family="Liberation Sans" font-size="9.3" font-weight="normal" fill="#ffffff" text-anchor="middle" >39</text>
<text x="0.00" y="0.00" font-family="Liberation Sans" font-size="9.3" font-weight="normal" fill="#222" text-anchor="middle" transform="translate(457.4,553.2249999999999) rotate(-90)" >SS</text>
<text x="0.00" y="0.00" font-family="Liberation Sans" font-size="9.3" font-weight="normal" fill="#222" text-anchor="middle" transform="translate(457.4,581.0749999999999) rotate(-90)" >LS</text>
<text x="0.00" y="0.00" font-family="Liberation Sans" font-size="9.6" font-weight="normal" fill="#222" text-anchor="middle" textLength="44" lengthAdjust="spacingAndGlyphs" transform="translate(445.7,567.15) rotate(-90)" >True labels</text>
<text x="480.62" y="608.40" font-family="Liberation Sans" font-size="9.3" font-weight="normal" fill="#222" text-anchor="middle" >SS</text>
<text x="511.88" y="608.40" font-family="Liberation Sans" font-size="9.3" font-weight="normal" fill="#222" text-anchor="middle" >LS</text>
<text x="496.25" y="620.30" font-family="Liberation Sans" font-size="9.6" font-weight="normal" fill="#222" text-anchor="middle" textLength="63" lengthAdjust="spacingAndGlyphs" >Predicted labels</text>
<defs><linearGradient id="cb5" x1="0" y1="1" x2="0" y2="0"><stop offset="0.0000" stop-color="#f8fbff"/><stop offset="0.0625" stop-color="#ecf3fb"/><stop offset="0.1250" stop-color="#e1ebf7"/><stop offset="0.1875" stop-color="#d6e4f3"/><stop offset="0.2500" stop-color="#cbdcef"/><stop offset="0.3125" stop-color="#b9d4e8"/><stop offset="0.3750" stop-color="#a6cbe1"/><stop offset="0.4375" stop-color="#8fbedc"/><stop offset="0.5000" stop-color="#78b0d6"/><stop offset="0.5625" stop-color="#65a2ce"/><stop offset="0.6250" stop-color="#5295c6"/><stop offset="0.6875" stop-color="#4384be"/><stop offset="0.7500" stop-color="#3474b5"/><stop offset="0.8125" stop-color="#2965a8"/><stop offset="0.8750" stop-color="#1d559c"/><stop offset="0.9375" stop-color="#1d4584"/><stop offset="1.0000" stop-color="#1d356b"/></linearGradient></defs>
<rect x="531.10" y="539.30" width="3.00" height="55.70" fill="url(#cb5)" />
<line x1="534.10" y1="542.58" x2="537.10" y2="542.58" stroke="#333" stroke-width="0.8" />
<text x="539.90" y="545.78" font-family="Liberation Sans" font-size="8.8" font-weight="normal" fill="#222" text-anchor="start" >40</text>
<line x1="534.10" y1="575.34" x2="537.10" y2="575.34" stroke="#333" stroke-width="0.8" />
<text x="539.90" y="578.54" font-family="Liberation Sans" font-size="8.8" font-weight="normal" fill="#222" text-anchor="start" >20</text>
</svg>
</body></html>
